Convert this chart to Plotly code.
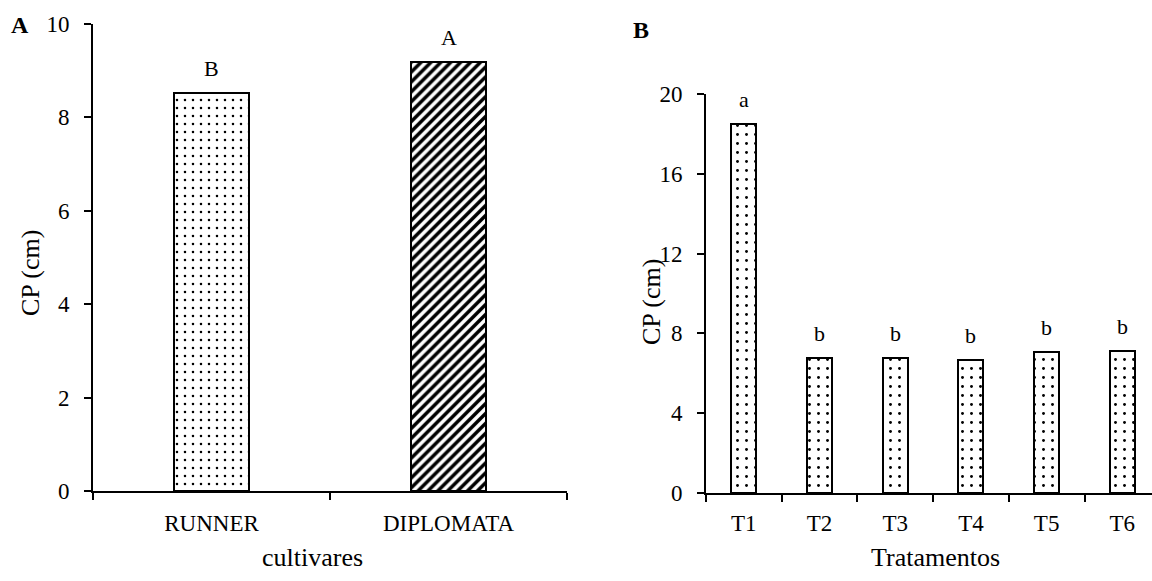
import plotly.graph_objects as go

W, H = 1152, 581

# Panel A data
cultivares = ["RUNNER", "DIPLOMATA"]
cp_cultivar = [8.53, 9.18]
letters_a = ["B", "A"]

# Panel B data
tratamentos = ["T1", "T2", "T3", "T4", "T5", "T6"]
cp_trat = [18.5, 6.77, 6.77, 6.65, 7.07, 7.13]
letters_b = ["a", "b", "b", "b", "b", "b"]

FONT = "Liberation Serif"

def px_x(x):
    return x / W

def px_y(y):
    return 1 - y / H

fig = go.Figure()

fig.add_trace(go.Bar(
    x=cultivares, y=cp_cultivar, xaxis="x", yaxis="y", width=0.32,
    marker=dict(
        color="white",
        line=dict(color="black", width=2),
        pattern=dict(shape=[".", "/"], fgcolor="black", bgcolor="white",
                     size=[8, 7], solidity=[0.08, 0.5], fgopacity=1,
                     fillmode="overlay"),
    ),
    showlegend=False,
))

fig.add_trace(go.Bar(
    x=tratamentos, y=cp_trat, xaxis="x2", yaxis="y2", width=0.33,
    marker=dict(
        color="white",
        line=dict(color="black", width=2),
        pattern=dict(shape=".", fgcolor="black", bgcolor="white",
                     size=9, solidity=0.08, fgopacity=1, fillmode="overlay"),
    ),
    showlegend=False,
))

tickfont = dict(family=FONT, size=23, color="black")
axis_common = dict(showline=True, linecolor="black", linewidth=1.8,
                   ticks="outside", ticklen=7, tickwidth=1.5, tickcolor="black",
                   showgrid=False, zeroline=False, tickfont=tickfont,
                   automargin=False)

fig.update_layout(
    width=W, height=H,
    margin=dict(l=0, r=0, t=0, b=0, pad=0),
    paper_bgcolor="white", plot_bgcolor="white",
    bargap=0,
    xaxis=dict(domain=[px_x(93), px_x(567)], anchor="y", type="category",
               range=[-0.5, 1.5], tickson="boundaries", ticklabelstandoff=10,
               **axis_common),
    yaxis=dict(domain=[px_y(491), px_y(24)], anchor="x", range=[0, 10],
               tickvals=[0, 2, 4, 6, 8, 10], ticklabelstandoff=10, **axis_common),
    xaxis2=dict(domain=[px_x(706), 1.0], anchor="y2", type="category",
                range=[-0.5, -0.5 + (1152 - 706) / 75.7], tickson="boundaries",
                ticklabelstandoff=8, **axis_common),
    yaxis2=dict(domain=[px_y(493), px_y(94)], anchor="x2", range=[0, 20],
                tickvals=[0, 4, 8, 12, 16, 20], ticklabelstandoff=10, **axis_common),
)

letter_font = dict(family=FONT, size=22, color="black")
ann = []
for c, v, l in zip(cultivares, cp_cultivar, letters_a):
    ann.append(dict(x=c, y=v, xref="x", yref="y", text=l, showarrow=False,
                    xanchor="center", yanchor="bottom", yshift=10, font=letter_font))
for c, v, l in zip(tratamentos, cp_trat, letters_b):
    ann.append(dict(x=c, y=v, xref="x2", yref="y2", text=l, showarrow=False,
                    xanchor="center", yanchor="bottom", yshift=10, font=letter_font))

title_font = dict(family=FONT, size=26, color="black")
panel_font = dict(family=FONT, size=24, color="black")
def paper_text(x, y, text, font, angle=0):
    return dict(x=px_x(x), y=px_y(y), xref="paper", yref="paper", text=text,
                textangle=angle, showarrow=False, xanchor="center", yanchor="middle",
                font=font)

ann += [
    paper_text(30, 273, "CP (cm)", title_font, -90),
    paper_text(651, 302, "CP (cm)", title_font, -90),
    paper_text(312, 557, "cultivares", title_font),
    paper_text(935, 557, "Tratamentos", title_font),
    paper_text(20, 25, "<b>A</b>", panel_font),
    paper_text(641, 30, "<b>B</b>", panel_font),
]
fig.update_layout(annotations=ann)

fig.write_html("out.html")
